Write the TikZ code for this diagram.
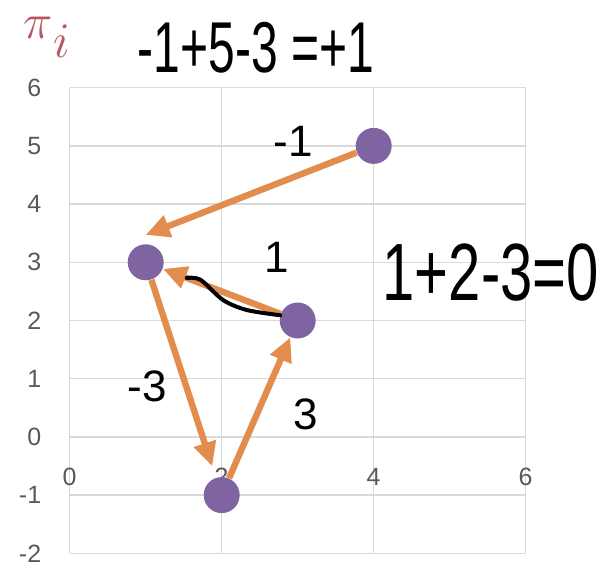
\documentclass[tikz,border=0pt]{standalone}
\usepackage{fontspec}
\setmainfont{Liberation Sans}
\usepackage{tikz}
\usetikzlibrary{arrows.meta, positioning}
\definecolor{gridgray}{RGB}{217,217,217}
\definecolor{ticktext}{RGB}{89,89,89}
\definecolor{pointpurple}{RGB}{128,100,162}
\definecolor{arroworange}{RGB}{226,141,77}
\definecolor{pired}{RGB}{181,86,96}
\tikzset{
  vertex/.style={circle, fill=pointpurple, minimum size=18pt, inner sep=0pt},
  move/.style={-{Triangle[length=12pt, width=11pt]}, arroworange, line width=3.2pt},
  cost/.style={font=\fontsize{22}{22}\selectfont, inner sep=0pt},
  ticklbl/.style={font=\fontsize{12.5}{12.5}\selectfont, text=ticktext, inner sep=0pt},
  gridline/.style={gridgray, line width=0.75pt}
}

\begin{document}
\begin{tikzpicture}[x=38pt, y=29.1pt]
\useasboundingbox (-0.917,-2.167) rectangle (7.057,7.507);

% Grid
\foreach \y in {-2,...,6}
  \draw[gridline] (0,\y) -- (6,\y);
\foreach \x in {0,2,4,6}
  \draw[gridline] (\x,-2) -- (\x,6);

% Axis labels
\foreach \y [count=\i] in {-2,...,6}
  \node[ticklbl, anchor=east] (ylab\i) at (-0.37,\y) {\y};
\foreach \x in {0,2,4,6}
  \node[ticklbl] (xlab\x) at (\x,-0.684) {\x};
\node[text=pired, font=\fontsize{27}{27}\selectfont, inner sep=0pt] (pilab) at (-0.30,6.86) {$\pi\raisebox{-0.35em}{$i$}$};

% Points
\node[vertex] (p1) at (4,5) {};
\node[vertex] (p2) at (1,3) {};
\node[vertex] (p3) at (3,2) {};
\node[vertex] (p4) at (2,-1) {};
\coordinate (t1) at (1,3.47);

% Moves with their costs
\draw[move] (p1) -- (t1);
\draw[move] (p3) -- (p2);
\draw[move, shorten >=6pt] (p2) -- (p4);
\draw[move] (p4) -- (p3);

\node[cost] (c1) at (2.94,5.08) {-1};
\node[cost] (c2) at (2.72,3.08) {1};
\node[cost] (c3) at (1.02,0.875) {-3};
\node[cost] (c4) at (3.10,0.38) {3};

% Handwritten notes
\draw[line width=2pt, line cap=round] plot[smooth] coordinates {(1.54,2.73) (1.72,2.70) (2.02,2.35) (2.33,2.18) (2.77,2.09)};
\node[font=\fontsize{24}{24}\selectfont] (sum1) at (2.45,6.68) {\scalebox{1}[1.5]{-1+5-3 =+1}};
\node[font=\fontsize{29}{29}\selectfont] (sum2) at (5.54,2.83) {\scalebox{1}[1.4]{1+2-3=0}};
\end{tikzpicture}
\end{document}
